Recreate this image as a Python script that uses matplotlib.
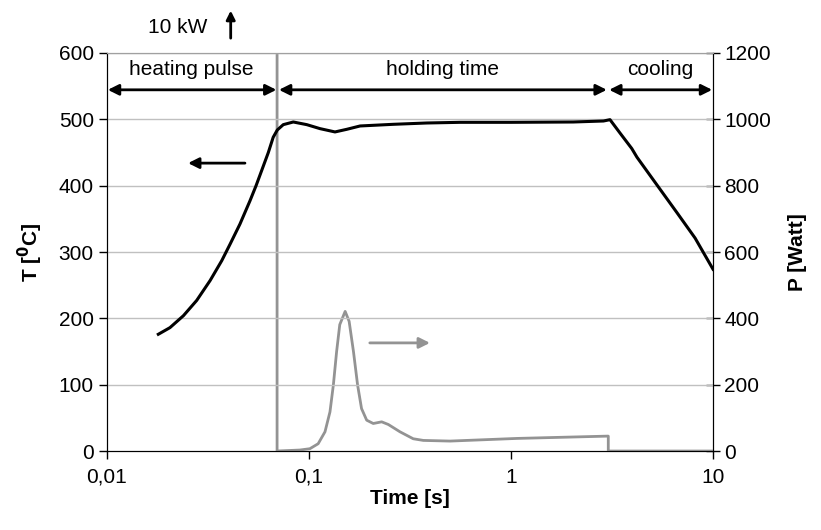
import numpy as np
import matplotlib
matplotlib.use("Agg")
import matplotlib.pyplot as plt

plt.rcParams['font.family'] = ['Liberation Sans', 'DejaVu Sans']

# Temperature curve (left axis)
t_time = [0.01795, 0.0205, 0.0239, 0.0278, 0.0324, 0.0370, 0.0407, 0.0455, 0.0510,
          0.0547, 0.0585, 0.0629, 0.0665, 0.0697, 0.0746, 0.0836, 0.0975, 0.1133,
          0.1345, 0.154, 0.179, 0.261, 0.383, 0.560, 1.0, 2.03, 2.87, 3.09,
          3.47, 3.96, 4.2, 5.28, 6.64, 8.15, 10.0]
t_vals = [176, 186, 204, 227, 257, 287, 312, 342, 377,
          400, 424, 450, 473, 484, 492, 496, 492, 486,
          481, 485, 490, 492.5, 494.5, 495.5, 495.5, 496, 497.5, 499.5,
          479, 456, 443, 401, 359, 321, 274]

# Power curve (right axis)
p_time = [0.0695, 0.0695, 0.0901, 0.101, 0.111, 0.120, 0.127, 0.132, 0.137, 0.142,
          0.151, 0.158, 0.166, 0.174, 0.182, 0.193, 0.208, 0.229, 0.247, 0.282,
          0.328, 0.368, 0.499, 1.07, 3.03, 3.03, 10.0]
p_vals = [1200, 0, 3, 7, 22, 58, 118, 199, 300, 381,
          421, 391, 300, 199, 128, 93, 83, 88, 80, 58,
          37, 32, 30, 38, 45, 0, 0]

x_ticks = [0.01, 0.1, 1, 10]
x_labels = ['0,01', '0,1', '1', '10']
t_ticks = [0, 100, 200, 300, 400, 500, 600]
p_ticks = [0, 200, 400, 600, 800, 1000, 1200]

fs = 15
fig = plt.figure(figsize=(8.21, 5.30), dpi=100)
ax = fig.add_axes([0.1303, 0.149, 0.7382, 0.751])
ax2 = ax.twinx()

ax.set_xscale('log')
ax.set_xlim(0.01, 10)
ax.set_ylim(0, 600)
ax2.set_ylim(0, 1200)

for y in t_ticks[1:]:
    ax.axhline(y, color='#c0c0c0', lw=1.0, zorder=0)

ax2.plot(p_time, p_vals, color='#939393', lw=2.0, zorder=3, solid_joinstyle='round')
ax.plot(t_time, t_vals, color='black', lw=2.2, zorder=4, solid_joinstyle='round')
ax.set_zorder(ax2.get_zorder() + 1)
ax.patch.set_visible(False)

ax.set_xticks(x_ticks)
ax.set_xticklabels(x_labels)
ax.xaxis.set_minor_locator(matplotlib.ticker.NullLocator())
ax.set_yticks(t_ticks)
ax2.set_yticks(p_ticks)

ax.tick_params(axis='both', labelsize=fs, direction='out', length=6, width=1, colors='black')
ax.tick_params(axis='x', pad=6)
ax2.tick_params(axis='y', labelsize=fs, direction='inout', length=10, width=1, pad=3)

for a in (ax, ax2):
    a.spines['top'].set_color('#a0a0a0')
    a.spines['left'].set_color('black')
    a.spines['right'].set_color('black')
    a.spines['bottom'].set_color('black')

ax.set_xlabel('Time [s]', fontsize=fs, fontweight='bold', labelpad=2)
ax.set_ylabel('T [$\\mathbf{^0}$C]', fontsize=fs, fontweight='bold', labelpad=10)
ax2.set_ylabel('P [Watt]', fontsize=fs, fontweight='bold', labelpad=12)

# Phase annotations
ya = 544.5
arrowprops = dict(arrowstyle='<|-|>', color='black', lw=2, mutation_scale=16, shrinkA=0, shrinkB=0)
ax.annotate('', xy=(0.0101, ya), xytext=(0.0690, ya), arrowprops=arrowprops)
ax.annotate('', xy=(0.0710, ya), xytext=(2.98, ya), arrowprops=arrowprops)
ax.annotate('', xy=(3.06, ya), xytext=(9.9, ya), arrowprops=arrowprops)
ax.text(0.0262, 575, 'heating pulse', ha='center', va='center', fontsize=fs)
ax.text(0.46, 575, 'holding time', ha='center', va='center', fontsize=fs)
ax.text(5.47, 575, 'cooling', ha='center', va='center', fontsize=fs)

# Curve indicator arrows
ax.annotate('', xy=(0.0252, 434), xytext=(0.0482, 434),
            arrowprops=dict(arrowstyle='-|>', color='black', lw=2, mutation_scale=16, shrinkA=0, shrinkB=0))
ax.annotate('', xy=(0.397, 163), xytext=(0.200, 163),
            arrowprops=dict(arrowstyle='-|>', color='#939393', lw=2, mutation_scale=16, shrinkA=0, shrinkB=0))

# 10 kW marker
fig.text(0.253, 0.949, '10 kW', ha='right', va='center', fontsize=fs)
fig.patches.append(matplotlib.patches.FancyArrowPatch((0.281, 0.928), (0.281, 0.980),
                   transform=fig.transFigure, arrowstyle='-|>', mutation_scale=13,
                   color='black', lw=2, shrinkA=0, shrinkB=0))

fig.savefig('out.png', dpi=100)
